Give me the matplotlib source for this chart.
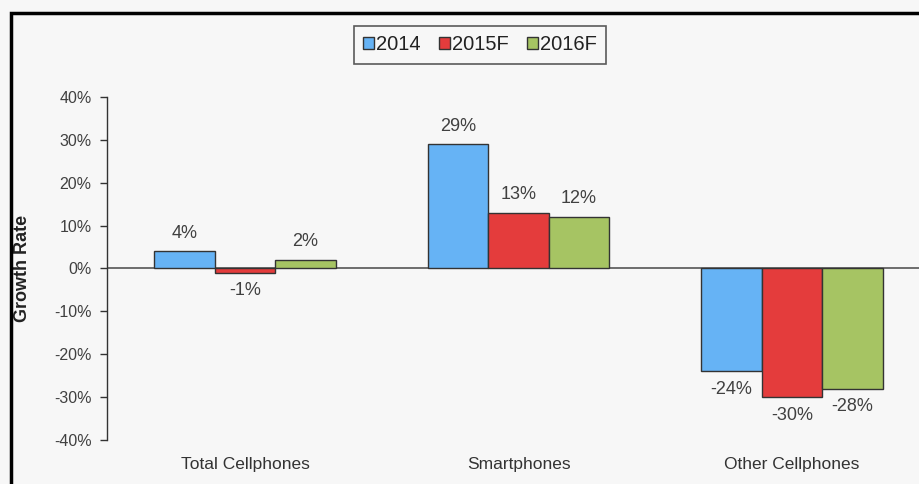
import matplotlib
import numpy as np

matplotlib.use("Agg")
import matplotlib.pyplot as plt
from matplotlib.patches import Rectangle

plt.rcParams["font.family"] = ["Liberation Sans", "DejaVu Sans"]

categories = ["Total Cellphones", "Smartphones", "Other Cellphones"]
series_names = ["2014", "2015F", "2016F"]
growth_2014 = [4, 29, -24]
growth_2015f = [-1, 13, -30]
growth_2016f = [2, 12, -28]
yticks = [-40, -30, -20, -10, 0, 10, 20, 30, 40]

colors = ["#66b3f5", "#e43c3c", "#a6c463"]
bg = "#f7f7f7"

fig = plt.figure(figsize=(9.19, 4.84), dpi=100, facecolor=bg)
ax = fig.add_axes([0.1164, 0.0909, 0.8836, 0.7087], facecolor=bg)

x = np.arange(len(categories))
width = 0.221
for i, (vals, name, col) in enumerate(zip([growth_2014, growth_2015f, growth_2016f], series_names, colors)):
    pos = x + (i - 1) * width
    bars = ax.bar(pos, vals, width=width, color=col, edgecolor="#333333", linewidth=1.0, label=name, zorder=3)
    for b, v in zip(bars, vals):
        off = 13 if v >= 0 else -13
        ax.annotate(f"{v}%", (b.get_x() + b.get_width() / 2, v), textcoords="offset points",
                    xytext=(0, off), ha="center", va="center", fontsize=13, color="#404040")

ax.axhline(0, color="#555555", linewidth=1.2, zorder=2)
ax.set_xlim(-0.505, 2.464)
ax.set_ylim(-40, 40)
ax.set_yticks(yticks)
ax.set_yticklabels([f"{t}%" for t in yticks], fontsize=11.5, color="#404040")
ax.set_xticks(x)
ax.set_xticklabels(categories, fontsize=12.5, color="#333333")
ax.tick_params(axis="x", length=0, pad=12)
ax.tick_params(axis="y", length=5, width=1, color="#333333", pad=6)
for s in ["top", "right", "bottom"]:
    ax.spines[s].set_visible(False)
ax.spines["left"].set_color("#333333")
ax.spines["left"].set_linewidth(1.0)
ax.set_ylabel("Growth Rate", fontsize=13, fontweight="bold", color="#222222")
ax.yaxis.set_label_coords(-0.093, 0.5)

leg = ax.legend(loc="center", bbox_to_anchor=(480 / 919, 1 - 45 / 484), bbox_transform=fig.transFigure,
                ncol=3, frameon=True, fontsize=14.5, handlelength=0.55, handleheight=0.55,
                handletextpad=0.1, columnspacing=0.9, borderpad=0.45, fancybox=False)
leg.get_frame().set_edgecolor("#333333")
leg.get_frame().set_facecolor(bg)
leg.get_frame().set_linewidth(1.2)
for t in leg.get_texts():
    t.set_color("#222222")

fig.patches.append(Rectangle((11 / 919, -0.1), 1.2, 1 - 12.5 / 484 + 0.1, transform=fig.transFigure,
                             fill=False, edgecolor="black", linewidth=2.5))

fig.savefig("out.png", dpi=100, facecolor=bg)
